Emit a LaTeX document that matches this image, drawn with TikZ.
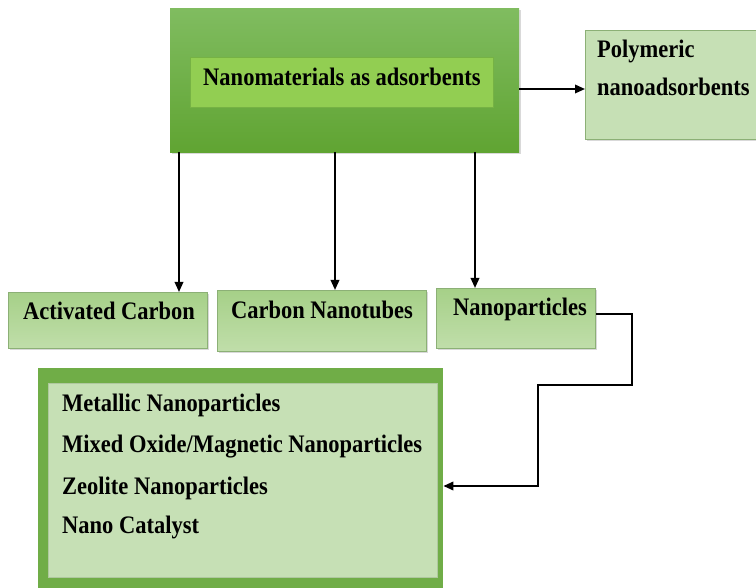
\documentclass[tikz,border=0pt]{standalone}
\usepackage{fontspec}
\usepackage{graphicx}
\setmainfont{Liberation Serif}
\usetikzlibrary{arrows.meta,shadows}
\definecolor{topLight}{RGB}{128,188,96}
\definecolor{topDark}{RGB}{96,164,50}
\definecolor{innerFill}{RGB}{146,206,82}
\definecolor{innerLine}{RGB}{118,178,68}
\definecolor{paleFill}{RGB}{198,224,181}
\definecolor{paleLine}{RGB}{140,176,118}
\definecolor{midTop}{RGB}{166,208,136}
\definecolor{midBot}{RGB}{192,222,170}
\definecolor{frameGreen}{RGB}{112,173,71}
\newcommand{\tallbf}[1]{\scalebox{1}[1.12]{#1}}
\begin{document}
\begin{tikzpicture}[x=1pt,y=-1pt,
  shadowed/.style={drop shadow={shadow xshift=1.5pt,shadow yshift=-2pt,opacity=0.25,fill=black!60}},
  boxbase/.style={rectangle,inner sep=0pt,anchor=north west},
  topbox/.style={boxbase,top color=topLight,bottom color=topDark,draw=none,shadowed},
  innerbox/.style={boxbase,fill=innerFill,draw=innerLine,line width=0.8pt},
  palebox/.style={boxbase,fill=paleFill,draw=paleLine,line width=1pt,shadowed},
  midbox/.style={boxbase,top color=midTop,bottom color=midBot,draw=paleLine,line width=1pt,shadowed},
  framebox/.style={boxbase,fill=frameGreen,draw=none},
  txt/.style={font=\bfseries\fontsize{22.5}{27}\selectfont,inner sep=0pt,text=black},
  arr/.style={line width=1.9pt,-{Triangle[length=10pt,width=8.5pt]}}]
\useasboundingbox (0,0) rectangle (756,588);
\path[clip] (0,0) rectangle (756,588);

% top box
\node[topbox,minimum width=349pt,minimum height=144pt] (top) at (170,8) {};
\node[innerbox,minimum width=303pt,minimum height=50pt] (inner) at (190,57) {};
\node[txt,anchor=base] at (342,86) {\tallbf{Nanomaterials as adsorbents}};

% polymeric
\node[palebox,minimum width=190pt,minimum height=109pt] (poly) at (585,30) {};
\node[txt,anchor=base west] at (597,58) {\tallbf{Polymeric}};
\node[txt,anchor=base west] at (597,96) {\tallbf{nanoadsorbents}};

% level 2
\node[midbox,minimum width=199pt,minimum height=56pt] (ac) at (8,292) {};
\node[txt,anchor=base] at (109,320) {\tallbf{Activated Carbon}};
\node[midbox,minimum width=209pt,minimum height=61pt] (cnt) at (217,290) {};
\node[txt,anchor=base] at (322,319) {\tallbf{Carbon Nanotubes}};
\node[midbox,minimum width=159pt,minimum height=60pt] (np) at (436,288) {};
\node[txt,anchor=base] at (520,316) {\tallbf{Nanoparticles}};

% bottom box
\node[framebox,minimum width=405pt,minimum height=230pt] (bot) at (38,368) {};
\node[boxbase,fill=paleFill,draw=paleLine!70,line width=0.6pt,minimum width=389pt,minimum height=194pt] (botin) at (48,383) {};
\node[txt,anchor=base west] at (62,412) {\tallbf{Metallic Nanoparticles}};
\node[txt,anchor=base west] at (62,453) {\tallbf{Mixed Oxide/Magnetic Nanoparticles}};
\node[txt,anchor=base west] at (62,494) {\tallbf{Zeolite Nanoparticles}};
\node[txt,anchor=base west] at (62,533) {\tallbf{Nano Catalyst}};

% connectors
\coordinate (a1) at (179,0);
\coordinate (a2) at (335,0);
\coordinate (a3) at (475,0);
\draw[arr] (top.south -| a1) -- (ac.north -| a1);
\draw[arr] (top.south -| a2) -- (cnt.north -| a2);
\draw[arr] (top.south -| a3) -- (np.north -| a3);
\coordinate (p1) at (0,89);
\draw[arr] (top.east |- p1) -- (poly.west |- p1);
\coordinate (c0) at (0,314);
\coordinate (c1) at (632,385);
\coordinate (c2) at (538,486);
\draw[arr] (np.east |- c0) -| (c1) -| (c2) -- (c2 -| bot.east);
\end{tikzpicture}
\end{document}
